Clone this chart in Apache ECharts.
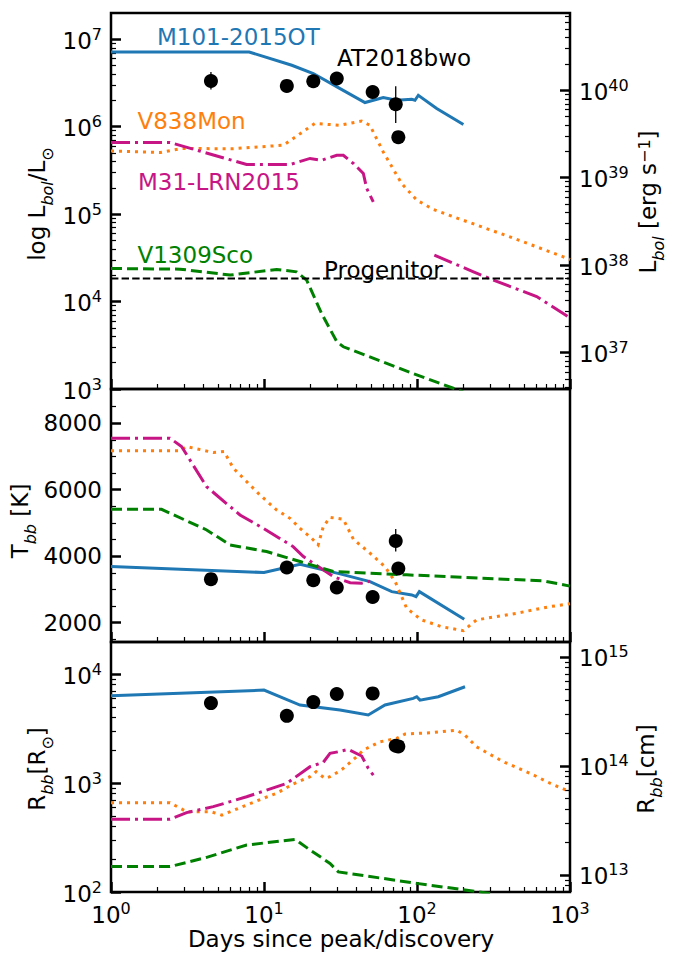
<!DOCTYPE html>
<html><head><meta charset="utf-8">
<script src="https://cdn.jsdelivr.net/npm/echarts@6/dist/echarts.min.js"></script>
<style>html,body{margin:0;padding:0;background:#fff}#c{width:673px;height:953px}</style>
</head><body><div id="c"></div>
<script>
// ---------------- DATA ----------------
// AT2018bwo measurements
const atDays = [4.5, 14.1, 21, 29.9, 51.3, 72.6, 75.5];
const atL = [3.34e6, 2.93e6, 3.31e6, 3.56e6, 2.5e6, 1.81e6, 7.6e5];
const atT = [3310, 3660, 3280, 3060, 2775, 4460, 3630];
const atR = [5420, 4140, 5530, 6560, 6650, 2200, 2170];
const atLErrDays = [4.5, 72.6];
const atLErrLo = [2.66e6, 1.1e6];
const atLErrHi = [4.23e6, 2.9e6];
const atTErrDays = [72.6];
const atTErrLo = [4140];
const atTErrHi = [4820];

// M101-2015OT
const m101LDays = [1, 8.0, 15.2, 21, 30.6, 45.7, 60.2, 73.6, 92.3, 97, 102, 134.5, 201];
const m101L = [7.16e6, 7.16e6, 5.05e6, 4.06e6, 2.8e6, 1.89e6, 2.16e6, 2.01e6, 2.06e6, 2.01e6, 2.29e6, 1.62e6, 1.06e6];
const m101TDays = [1, 10, 17.2, 31.4, 49.3, 68.4, 92.4, 98.5, 103.6, 203.6];
const m101T = [3690, 3510, 3760, 3470, 3235, 2935, 2835, 2785, 2935, 2105];
const m101RDays = [1, 10, 17.2, 31.4, 48, 61.8, 94.5, 99.6, 104.6, 137.7, 206];
const m101R = [6330, 7130, 5200, 4680, 4210, 5200, 5990, 6200, 5770, 6200, 7650];

// V838Mon
const v838LDays = [1, 2.1, 2.9, 6.2, 13.4, 21.5, 31.3, 43.5, 49.2, 60.2, 79.4, 99.6, 128, 201, 405, 904, 1000];
const v838L = [5.28e5, 5.07e5, 5.64e5, 5.6e5, 6.15e5, 1.09e6, 1.04e6, 1.16e6, 1.04e6, 5.15e5, 2.24e5, 1.45e5, 1.13e5, 8.5e4, 5.5e4, 3.25e4, 3.03e4];
const v838TDays = [1, 2.83, 3.12, 4.66, 5.48, 6.3, 9.42, 12.1, 14.8, 17.2, 20.5, 22.6, 24.4, 27, 33, 38.4, 49.3, 61.6, 72, 85.6, 107, 145, 201, 245, 448, 740, 1000];
const v838T = [7170, 7170, 7300, 7120, 7150, 6650, 5840, 5390, 5140, 4840, 4540, 4340, 4890, 5170, 5110, 4510, 4090, 3690, 3235, 2435, 2085, 1880, 1760, 2085, 2285, 2485, 2570];
const v838RDays = [1, 2.43, 3.12, 4.5, 5.3, 7.7, 9.9, 12.1, 15.5, 20, 21.9, 25, 27, 30.6, 33, 39.3, 44.7, 57.3, 73.6, 83.6, 121.6, 181.5, 206, 245, 366, 548, 759, 1000];
const v838R = [660, 660, 545, 545, 508, 628, 724, 805, 980, 1143, 1270, 1105, 1143, 1270, 1365, 1690, 2010, 2390, 2570, 2820, 2890, 3060, 2750, 2150, 1570, 1228, 980, 832];

// M31-LRN2015
const m31LDays = [1, 2.43, 7.7, 14.8, 20, 23.8, 29.9, 33, 38.4, 44.6, 46.9, 51.8];
const m31L = [6.6e5, 6.6e5, 3.7e5, 3.7e5, 4.34e5, 4.14e5, 4.72e5, 4.72e5, 3.8e5, 2.92e5, 1.97e5, 1.38e5];
const m31LLateDays = [129.8, 234, 316, 606, 975];
const m31LLate = [3.4e4, 2.19e4, 1.76e4, 1.14e4, 6.7e3];
const m31TDays = [1, 2.43, 2.89, 4.22, 6.97, 9.9, 15.5, 18.1, 28.4, 31.4, 36.6, 43.5, 49.3];
const m31T = [7550, 7550, 7300, 6090, 5240, 4840, 4290, 3990, 3390, 3310, 3205, 3190, 3250];
const m31RDays = [1, 2.43, 3.12, 4.66, 7.7, 14.1, 20, 24.4, 27, 30.6, 35.6, 43.5, 48, 51.8];
const m31R = [465, 465, 535, 607, 748, 994, 1413, 1549, 1871, 1937, 2035, 1770, 1365, 1183];

// V1309Sco
const v1309LDays = [1, 2.83, 6, 12.1, 16.3, 19, 23.8, 29.9, 33, 99.6, 172.7, 200];
const v1309L = [2.39e4, 2.35e4, 2.01e4, 2.33e4, 2.19e4, 1.76e4, 7.3e3, 3.48e3, 3.04e3, 1.45e3, 1.02e3, 930];
const v1309TDays = [1, 2.14, 4.22, 6, 10.4, 17.2, 28.4, 85.6, 332, 670, 1000];
const v1309T = [5410, 5410, 4790, 4340, 4140, 3840, 3540, 3440, 3320, 3260, 3100];
const v1309RDays = [1, 2.43, 4.22, 7.7, 16, 20, 27, 30.6, 99.6, 300];
const v1309R = [171, 171, 208, 270, 304, 243, 183, 153, 120, 97];

// Progenitor luminosity
const progDays = [1, 1000];
const progL = [1.84e4, 1.84e4];

// Axis ticks
const xMajorTicks = [1, 10, 100, 1000];
const lMajorTicks = [1e3, 1e4, 1e5, 1e6, 1e7];
const lErgMajorTicks = [1e37, 1e38, 1e39, 1e40];
const tMajorTicks = [2000, 4000, 6000, 8000];
const tMinorTicks = [1500, 2500, 3000, 3500, 4500, 5000, 5500, 6500, 7000, 7500, 8500];
const rMajorTicks = [1e2, 1e3, 1e4];
const rCmMajorTicks = [1e13, 1e14, 1e15];

// ---------------- SETUP ----------------
const LSUN = 3.828e33, RSUN = 6.957e10;
const FONT = 'DejaVu Sans';
const zip = (a, b) => a.map((v, i) => [v, b[i]]);
function logMinor(e0, e1, lo, hi) {
  const out = [];
  for (let e = e0; e <= e1; e++) for (let k = 2; k <= 9; k++) {
    const v = k * Math.pow(10, e);
    if (v > lo && v < hi) out.push(v);
  }
  return out;
}
const LMIN = 1e3, LMAX = 2e7, TMIN = 1420, TMAX = 9030, RMIN = 100, RMAX = 1.97e4;
const xMinorTicks = logMinor(0, 2, 1, 1000);
const lMinorTicks = logMinor(3, 6, LMIN, LMAX);
const lErgMinorTicks = logMinor(36, 40, LMIN * LSUN, LMAX * LSUN);
const rMinorTicks = logMinor(2, 3, RMIN, RMAX);
const rCmMinorTicks = logMinor(12, 14, RMIN * RSUN, RMAX * RSUN);

const supRich = {
  b: {fontSize: 23, fontFamily: FONT, color: '#000', lineHeight: 26, verticalAlign: 'bottom'},
  s: {fontSize: 16, fontFamily: FONT, color: '#000', lineHeight: 16, verticalAlign: 'top'}
};
const pow10 = v => '{b|10}{s|' + Math.round(Math.log10(v)) + '}';

function xAx(gi, major, showLabel) {
  return {
    type: 'log', gridIndex: gi, min: 1, max: 1000, position: 'bottom',
    axisLine: {show: false}, splitLine: {show: false},
    axisTick: {show: true, inside: true, length: major ? 10 : 5,
      lineStyle: {color: '#000', width: major ? 2.5 : 1.2},
      customValues: major ? xMajorTicks : xMinorTicks},
    axisLabel: {show: showLabel, customValues: xMajorTicks, formatter: pow10, rich: supRich, margin: 8}
  };
}
function yAx(gi, type, min, max, pos, major, ticks, showLabel, fmt) {
  return {
    type: type, gridIndex: gi, min: min, max: max, position: pos,
    axisLine: {show: false}, splitLine: {show: false},
    axisTick: {show: true, inside: true, length: major ? 10 : 5,
      lineStyle: {color: '#000', width: major ? 2.5 : 1.2}, customValues: ticks},
    axisLabel: {show: showLabel, customValues: ticks, formatter: fmt, rich: supRich,
      margin: 9, fontSize: 23, fontFamily: FONT, color: '#000'}
  };
}

const xAxes = [
  xAx(0, true, false), xAx(0, false, false),
  xAx(1, true, false), xAx(1, false, false),
  xAx(2, true, true), xAx(2, false, false)
];
const yAxes = [
  yAx(0, 'log', LMIN, LMAX, 'left', true, lMajorTicks, true, pow10),
  yAx(0, 'log', LMIN, LMAX, 'left', false, lMinorTicks, false),
  yAx(0, 'log', LMIN * LSUN, LMAX * LSUN, 'right', true, lErgMajorTicks, true, pow10),
  yAx(0, 'log', LMIN * LSUN, LMAX * LSUN, 'right', false, lErgMinorTicks, false),
  yAx(1, 'value', TMIN, TMAX, 'left', true, tMajorTicks, true, v => String(v)),
  yAx(1, 'value', TMIN, TMAX, 'left', false, tMinorTicks, false),
  yAx(2, 'log', RMIN, RMAX, 'left', true, rMajorTicks, true, pow10),
  yAx(2, 'log', RMIN, RMAX, 'left', false, rMinorTicks, false),
  yAx(2, 'log', RMIN * RSUN, RMAX * RSUN, 'right', true, rCmMajorTicks, true, pow10),
  yAx(2, 'log', RMIN * RSUN, RMAX * RSUN, 'right', false, rCmMinorTicks, false)
];

const C_BLUE = '#1f77b4', C_ORANGE = '#ff7f0e', C_MAG = '#c71585', C_GREEN = '#008000';
const STY = {
  solid: {type: 'solid', width: 3},
  dotted: {type: [3, 5], width: 3},
  dashdot: {type: [19, 5, 3, 5], width: 3},
  dashed: {type: [11, 5], width: 3}
};
const PANEL = [[0, 0], [2, 4], [4, 6]]; // [xAxisIndex, yAxisIndex]
function line(p, data, color, sty, extra) {
  return Object.assign({
    type: 'line', xAxisIndex: PANEL[p][0], yAxisIndex: PANEL[p][1], data: data,
    symbol: 'none', showSymbol: false, silent: true, animation: false, clip: true,
    lineStyle: Object.assign({color: color, cap: 'butt', join: 'miter', opacity: 1}, sty)
  }, extra || {});
}
function pts(p, data) {
  return {type: 'scatter', xAxisIndex: PANEL[p][0], yAxisIndex: PANEL[p][1], data: data,
    symbol: 'circle', symbolSize: 14, itemStyle: {color: '#000', opacity: 1}, silent: true, animation: false, z: 5};
}
function errs(p, days, lo, hi) {
  return {type: 'custom', xAxisIndex: PANEL[p][0], yAxisIndex: PANEL[p][1],
    data: days.map((d, i) => [d, lo[i], hi[i]]), silent: true, animation: false, z: 4,
    renderItem: (params, api) => {
      const a = api.coord([api.value(0), api.value(1)]);
      const b = api.coord([api.value(0), api.value(2)]);
      return {type: 'line', shape: {x1: a[0], y1: a[1], x2: b[0], y2: b[1]},
        style: {stroke: '#000', lineWidth: 1.3}};
    }};
}

const series = [
  line(0, zip(m101LDays, m101L), C_BLUE, STY.solid),
  line(0, zip(v838LDays, v838L), C_ORANGE, STY.dotted),
  line(0, zip(m31LDays, m31L), C_MAG, STY.dashdot),
  line(0, zip(m31LLateDays, m31LLate), C_MAG, STY.dashdot),
  line(0, zip(v1309LDays, v1309L), C_GREEN, STY.dashed),
  line(0, zip(progDays, progL), '#000', {type: [7.4, 3.2], width: 2}),
  errs(0, atLErrDays, atLErrLo, atLErrHi),
  pts(0, zip(atDays, atL)),

  line(1, zip(m101TDays, m101T), C_BLUE, STY.solid),
  line(1, zip(v838TDays, v838T), C_ORANGE, STY.dotted),
  line(1, zip(m31TDays, m31T), C_MAG, STY.dashdot),
  line(1, zip(v1309TDays, v1309T), C_GREEN, STY.dashed),
  errs(1, atTErrDays, atTErrLo, atTErrHi),
  pts(1, zip(atDays, atT)),

  line(2, zip(m101RDays, m101R), C_BLUE, STY.solid),
  line(2, zip(v838RDays, v838R), C_ORANGE, STY.dotted),
  line(2, zip(m31RDays, m31R), C_MAG, STY.dashdot),
  line(2, zip(v1309RDays, v1309R), C_GREEN, STY.dashed),
  pts(2, zip(atDays, atR))
];

const gridBase = {left: 111, right: 103, show: true, borderColor: '#000', borderWidth: 2.5,
  backgroundColor: 'transparent', containLabel: false, outerBoundsMode: 'none'};
const grids = [
  Object.assign({top: 13, height: 376}, gridBase),
  Object.assign({top: 389, height: 253}, gridBase),
  Object.assign({top: 642, height: 250}, gridBase)
];

const titleRich = {
  m: {fontSize: 23, fontFamily: FONT, color: '#000', lineHeight: 30, verticalAlign: 'top'},
  sub: {fontSize: 16, fontFamily: FONT, color: '#000', lineHeight: 16, verticalAlign: 'bottom'},
  subi: {fontSize: 16, fontFamily: FONT, fontStyle: 'italic', color: '#000', lineHeight: 16, verticalAlign: 'bottom'},
  sup: {fontSize: 16, fontFamily: FONT, color: '#000', lineHeight: 16, verticalAlign: 'top'}
};
function ttl(x, y, text, rot) {
  return {type: 'text', x: x, y: y, rotation: rot ? Math.PI / 2 : 0, silent: true,
    style: {text: text, rich: titleRich, align: 'center', verticalAlign: 'middle',
      font: '23px "DejaVu Sans"', fill: '#000'}};
}
function note(x, y, text, color) {
  return {type: 'text', x: x, y: y, silent: true,
    style: {text: text, fill: color, fontSize: 23, fontFamily: FONT, align: 'left', verticalAlign: 'middle'}};
}

const graphics = [
  ttl(40, 204, '{m|log L}{subi|bol}{m|/L}{sub|\u2299}', true),
  ttl(651, 202, '{m|L}{subi|bol}{m| [erg s}{sup|\u22121}{m|]}', true),
  ttl(23, 521, '{m|T}{subi|bb}{m| [K]}', true),
  ttl(40, 769, '{m|R}{subi|bb}{m|[R}{sub|\u2299}{m|]}', true),
  ttl(649, 769, '{m|R}{subi|bb}{m|[cm]}', true),
  ttl(341, 942, '{m|Days since peak/discovery}', false),
  note(157, 36.5, 'M101-2015OT', C_BLUE),
  note(337, 58, 'AT2018bwo', '#000'),
  note(137.5, 120.5, 'V838Mon', C_ORANGE),
  note(138, 182, 'M31-LRN2015', C_MAG),
  note(137.5, 255, 'V1309Sco', C_GREEN),
  note(324, 269.5, 'Progenitor', '#000')
];

const chart = echarts.init(document.getElementById('c'), null, {renderer: 'svg', width: 673, height: 953});
chart.setOption({
  animation: false,
  backgroundColor: '#fff',
  grid: grids,
  xAxis: xAxes,
  yAxis: yAxes,
  series: series,
  graphic: graphics
});
</script></body></html>
